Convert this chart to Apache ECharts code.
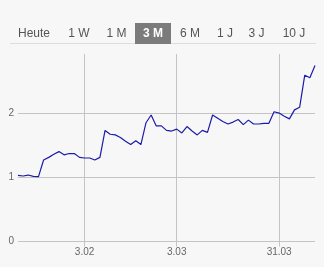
<!DOCTYPE html>
<html>
<head>
<meta charset="utf-8">
<style>
  html, body { margin: 0; padding: 0; background: #f7f7f7; }
  #chart { width: 324px; height: 267px; }
</style>
<script src="https://cdn.jsdelivr.net/npm/echarts@6/dist/echarts.min.js"></script>
</head>
<body>
<div id="chart"></div>
<script>
const tabLabels = ['Heute', '1 W', '1 M', '3 M', '6 M', '1 J', '3 J', '10 J'];
const tabCenters = [34, 79, 116.5, 153, 190, 225, 256.5, 294];
const activeTab = 3;

const values = [
  1.03, 1.02, 1.035, 1.015, 1.01, 1.27, 1.31, 1.36, 1.40, 1.35,
  1.37, 1.37, 1.31, 1.30, 1.30, 1.27, 1.31, 1.73, 1.67, 1.66,
  1.62, 1.56, 1.51, 1.57, 1.51, 1.85, 1.97, 1.80, 1.80, 1.73,
  1.72, 1.75, 1.69, 1.79, 1.72, 1.66, 1.73, 1.70, 1.97, 1.92,
  1.87, 1.83, 1.86, 1.90, 1.82, 1.89, 1.83, 1.83, 1.84, 1.84,
  2.02, 2.00, 1.95, 1.91, 2.05, 2.09, 2.59, 2.55, 2.74
];
// category labels: only a few dates are shown
const categories = values.map((v, i) => 'p' + i);
const tickLabels = { 13: '3.02', 31: '3.03', 51: '31.03' };
Object.keys(tickLabels).forEach(k => { categories[k] = tickLabels[k]; });
const yTicks = [0, 1, 2];

const isTick = (idx) => tickLabels[idx] !== undefined;

const chart = echarts.init(document.getElementById('chart'), null, { renderer: 'canvas' });

const graphic = [
  { type: 'line', shape: { x1: 10, y1: 43.5, x2: 316, y2: 43.5 }, style: { stroke: '#dddddd', lineWidth: 1 } },
  { type: 'rect', shape: { x: 135, y: 23, width: 36, height: 21 }, style: { fill: '#7b7b7b' } }
];
tabLabels.forEach((t, i) => {
  graphic.push({
    type: 'text',
    x: tabCenters[i], y: 34,
    style: {
      text: t,
      fill: i === activeTab ? '#ffffff' : '#555555',
      font: (i === activeTab ? 'bold ' : '') + '12px "Liberation Sans", Arial, sans-serif',
      align: 'center', verticalAlign: 'middle'
    }
  });
});

chart.setOption({
  backgroundColor: '#f7f7f7',
  animation: false,
  graphic: graphic,
  grid: { left: 18, right: 9, top: 54, bottom: 25.5, containLabel: false },
  xAxis: {
    type: 'category',
    data: categories,
    boundaryGap: false,
    axisLine: { show: false },
    axisTick: { show: true, interval: (idx) => isTick(idx), length: 5, lineStyle: { color: '#c4c4c4' } },
    axisLabel: {
      interval: (idx) => isTick(idx),
      color: '#666', fontSize: 10, margin: 6,
      fontFamily: '"Liberation Sans", Arial, sans-serif'
    },
    splitLine: { show: true, interval: (idx) => isTick(idx), lineStyle: { color: '#c4c4c4', width: 1 } }
  },
  yAxis: {
    type: 'value',
    min: yTicks[0],
    max: 2.92,
    interval: 1,
    axisLine: { show: false },
    axisTick: { show: false },
    axisLabel: {
      color: '#666', fontSize: 10, margin: 4, showMaxLabel: false,
      fontFamily: '"Liberation Sans", Arial, sans-serif',
      formatter: (v) => yTicks.includes(v) ? String(v) : ''
    },
    splitLine: { show: true, showMaxLine: false, lineStyle: { color: '#c4c4c4', width: 1 } }
  },
  series: [{
    type: 'line',
    data: values,
    symbol: 'none',
    lineStyle: { color: '#1c1ca8', width: 1.2 },
    z: 3
  }]
});
</script>
</body>
</html>
